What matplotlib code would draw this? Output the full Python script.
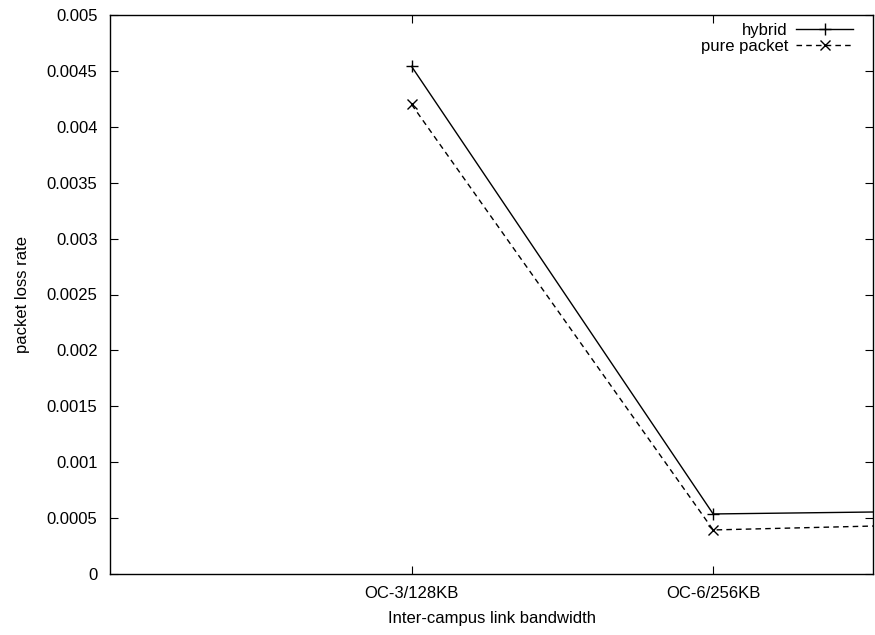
import matplotlib
matplotlib.use('Agg')
import matplotlib.pyplot as plt
import numpy as np

# values (third point lies beyond the x-range)
categories = ['OC-3/128KB', 'OC-6/256KB', 'OC-12/512KB']
hybrid = [0.00454, 0.000537, 0.00057]
pure_packet = [0.0042, 0.000394, 0.00046]
yticks = [0, 0.0005, 0.001, 0.0015, 0.002, 0.0025, 0.003, 0.0035, 0.004, 0.0045, 0.005]
ylabels = ['0', '0.0005', '0.001', '0.0015', '0.002', '0.0025', '0.003', '0.0035', '0.004', '0.0045', '0.005']

plt.rcParams['font.family'] = ['Liberation Sans', 'DejaVu Sans']
plt.rcParams['font.size'] = 12

fig = plt.figure(figsize=(8.75, 6.35), dpi=100)
ax = fig.add_axes([110/875, 1-574/635, (873-110)/875, (574-15)/635])

x = np.arange(1, len(categories)+1)
ax.plot(x, hybrid, color='black', lw=1, marker='+', ms=9, mew=1, label='hybrid')
ax.plot(x, pure_packet, color='black', lw=1, ls=(0, (4, 3)), marker='x', ms=7, mew=1,
        label='pure packet')

ax.set_xticks(x[:2])
ax.set_xticklabels(categories[:2])
ax.set_yticks(yticks)
ax.set_yticklabels(ylabels)
ax.set_xlim(0, 2.53)
ax.set_ylim(0, 0.005)
ax.tick_params(direction='in', top=True, right=True, length=6, width=0.8, pad=9)
for s in ax.spines.values():
    s.set_linewidth(1)

ax.set_xlabel('Inter-campus link bandwidth', labelpad=7)
ax.set_ylabel('packet loss rate', labelpad=12)

ax.legend(loc='upper right', bbox_to_anchor=(852/875, 1-9/635), frameon=False,
          markerfirst=False, handlelength=3.4, handletextpad=0.5, labelspacing=0.05,
          borderaxespad=0, borderpad=0)

fig.savefig('out.png', dpi=100)
